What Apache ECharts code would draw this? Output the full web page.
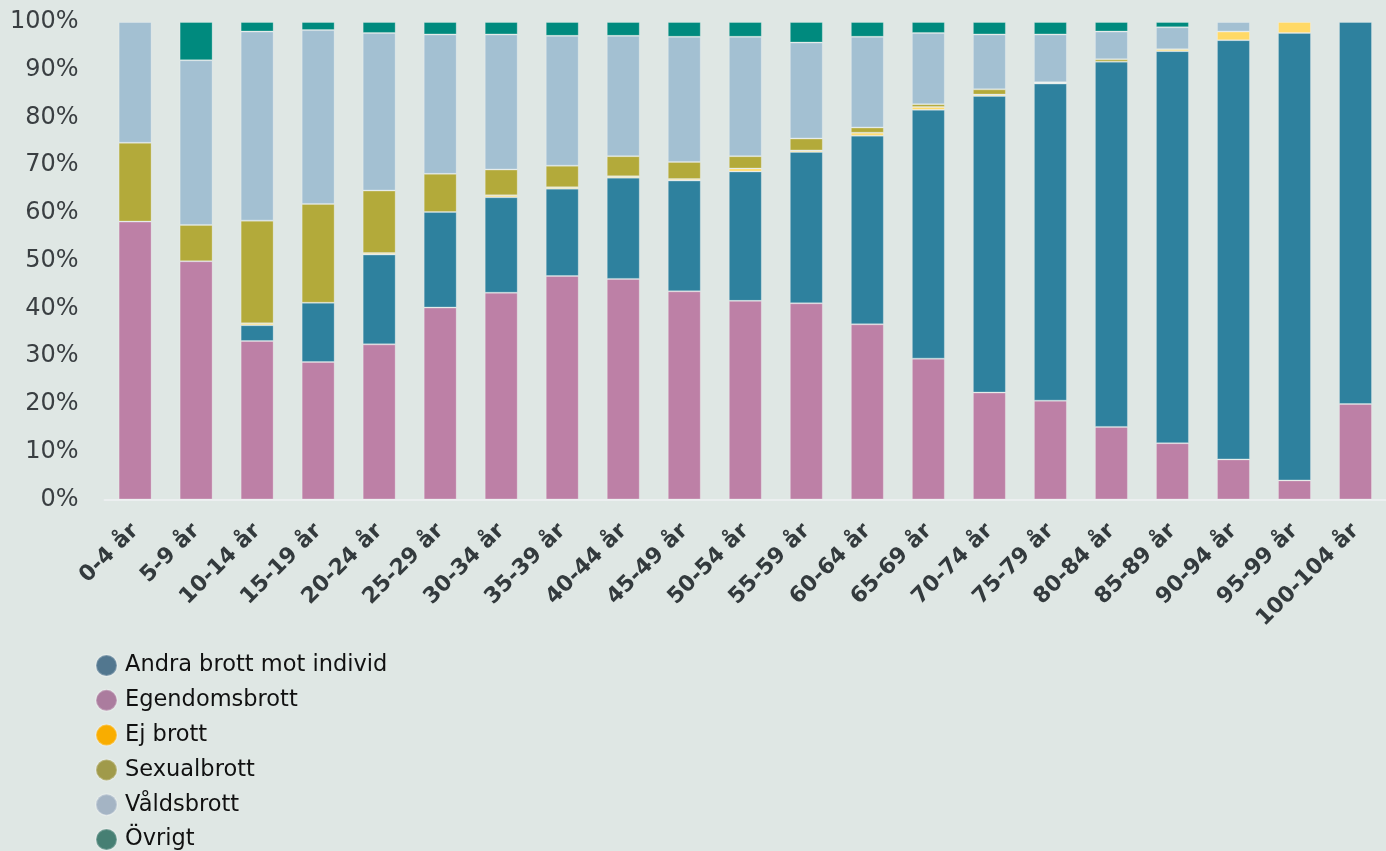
<!DOCTYPE html>
<html>
<head>
<meta charset="utf-8">
<script src="https://cdn.jsdelivr.net/npm/echarts@6/dist/echarts.min.js"></script>
<style>
html,body{margin:0;padding:0;background:#dfe7e4;}
#chart{width:1386px;height:851px;}
</style>
</head>
<body>
<div id="chart"></div>
<script>
const categories = ['0-4 år','5-9 år','10-14 år','15-19 år','20-24 år','25-29 år','30-34 år','35-39 år','40-44 år','45-49 år','50-54 år','55-59 år','60-64 år','65-69 år','70-74 år','75-79 år','80-84 år','85-89 år','90-94 år','95-99 år','100-104 år'];
const yTicks = [0,10,20,30,40,50,60,70,80,90,100];

const egendomsbrott = [58.2,49.9,33.2,28.8,32.5,40.2,43.3,46.8,46.2,43.6,41.6,41.1,36.7,29.5,22.4,20.7,15.2,11.8,8.4,4.0,20.0];
const andraBrott    = [0,0,3.3,12.4,18.8,20.0,20.0,18.3,21.2,23.2,27.1,31.7,39.5,52.1,62.1,66.4,76.5,82.1,87.8,93.7,80.0];
const ejBrott       = [0,0,0.4,0,0.3,0,0.4,0.3,0.3,0.3,0.6,0.3,0.6,0.6,0.3,0.2,0,0.4,1.8,2.3,0];
const sexualbrott   = [16.5,7.6,21.5,20.7,13.1,8.0,5.4,4.5,4.2,3.6,2.6,2.5,1.1,0.6,1.1,0.1,0.5,0,0,0,0];
const valdsbrott    = [25.3,34.5,39.6,36.4,33.0,29.2,28.3,27.2,25.2,26.2,25.0,20.1,19.0,14.9,11.5,10.0,5.8,4.6,2.0,0,0];
const ovrigt        = [0,8.0,2.0,1.7,2.3,2.6,2.6,2.9,2.9,3.1,3.1,4.3,3.1,2.3,2.6,2.6,2.0,1.1,0,0,0];

const seriesDefs = [
  {name:'Egendomsbrott', data:egendomsbrott, color:'#bd80a6', legendColor:'#ab7c9e'},
  {name:'Andra brott mot individ', data:andraBrott, color:'#2e819e', legendColor:'#52778f'},
  {name:'Ej brott', data:ejBrott, color:'#ffd966', legendColor:'#f9ad00'},
  {name:'Sexualbrott', data:sexualbrott, color:'#b3aa3a', legendColor:'#a09a4a'},
  {name:'Våldsbrott', data:valdsbrott, color:'#a3c0d2', legendColor:'#a4b4c4'},
  {name:'Övrigt', data:ovrigt, color:'#008a7e', legendColor:'#467f73'}
];
const legendOrder = ['Andra brott mot individ','Egendomsbrott','Ej brott','Sexualbrott','Våldsbrott','Övrigt'];

const chart = echarts.init(document.getElementById('chart'));
chart.setOption({
  backgroundColor:'#dfe7e4',
  animation:false,
  grid:{left:104.6, top:22, width:1296, height:477.5},
  legend:{
    orient:'vertical', left:95, top:654, padding:0, height:197,
    itemWidth:21, itemHeight:21, itemGap:11.8,
    icon:'circle',
    textStyle:{fontFamily:'DejaVu Sans', fontSize:22.5, color:'#111', padding:[0,0,0,3]},
    data: legendOrder.map(n => {
      const d = seriesDefs.find(s => s.name === n);
      return {name:n, itemStyle:{color:d.legendColor}};
    })
  },
  xAxis:{
    type:'category', data:categories,
    axisLine:{show:true, lineStyle:{color:'#eceff0', width:2}},
    axisTick:{show:false},
    axisLabel:{rotate:45, margin:28, interval:0, fontFamily:'DejaVu Sans', fontWeight:'bold', fontSize:22, color:'#333a3d'}
  },
  yAxis:{
    type:'value', min:yTicks[0], max:yTicks[yTicks.length-1], interval:10,
    splitLine:{show:false}, axisLine:{show:false}, axisTick:{show:false},
    axisLabel:{formatter:'{value}%', margin:26, fontFamily:'DejaVu Sans', fontSize:24, color:'#3a3f42'}
  },
  series: seriesDefs.map(s => ({
    name:s.name, type:'bar', stack:'total', barWidth:33,
    data:s.data.map(v => v === 0 ? '-' : v),
    itemStyle:{color:s.color, borderColor:'rgba(255,255,255,0.25)', borderWidth:1}
  }))
});
</script>
</body>
</html>
